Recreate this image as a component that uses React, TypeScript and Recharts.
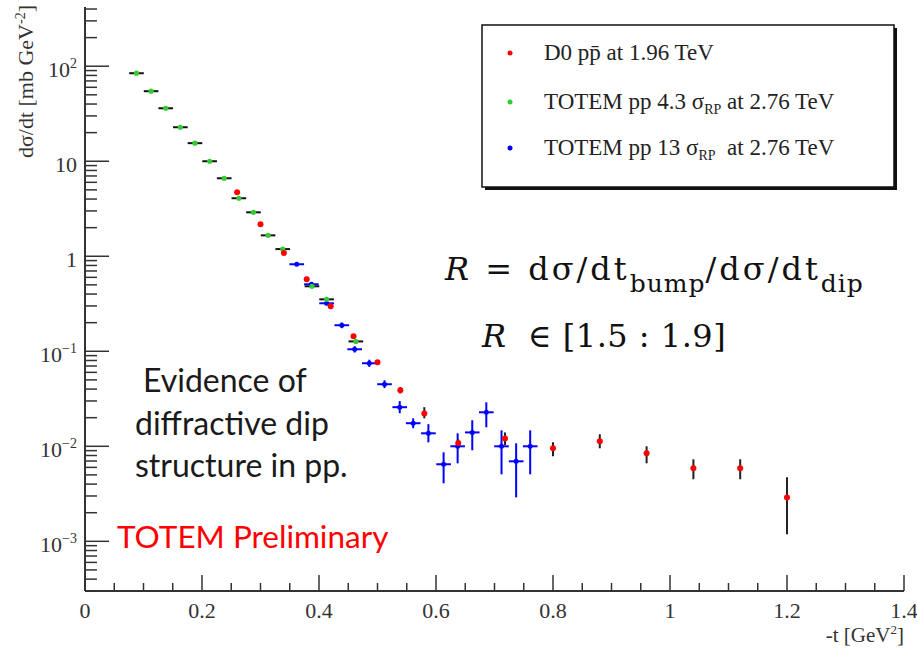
import React from "react";
import { ScatterChart, Scatter, XAxis, YAxis, ErrorBar, Legend } from "recharts";

const SERIF = "'Liberation Serif', 'Times New Roman', serif";
const MATH = "'DejaVu Serif', serif";
const SANS = "Lato, 'Noto Sans', sans-serif";
const AXIS = "#333";

// D0 p-pbar at 1.96 TeV
const d0T = [0.26, 0.3, 0.34, 0.379, 0.42, 0.459, 0.5, 0.539, 0.58, 0.638, 0.718, 0.8, 0.88, 0.96, 1.04, 1.12, 1.2];
const d0Val = [4.72, 2.17, 1.08, 0.573, 0.298, 0.144, 0.0766, 0.0388, 0.0222, 0.0108, 0.0121, 0.00953, 0.0113, 0.00844, 0.00587, 0.00587, 0.0029];
const d0Low = [4.5, 2.07, 1.03, 0.546, 0.284, 0.137, 0.072, 0.036, 0.0197, 0.0095, 0.0103, 0.00785, 0.00953, 0.00662, 0.0045, 0.0045, 0.00119];
const d0High = [4.95, 2.28, 1.13, 0.6, 0.313, 0.152, 0.081, 0.042, 0.0258, 0.0118, 0.014, 0.011, 0.0134, 0.01, 0.0073, 0.0073, 0.00472];

// TOTEM pp 4.3 sigma_RP at 2.76 TeV
const t43T = [0.088, 0.113, 0.138, 0.163, 0.188, 0.213, 0.238, 0.263, 0.288, 0.313, 0.338, 0.388, 0.413, 0.463];
const t43Val = [84.4, 54.6, 36.1, 22.8, 15.5, 10, 6.62, 4.08, 2.9, 1.66, 1.19, 0.483, 0.352, 0.127];
const t43BinHalf = 0.0125;

// TOTEM pp 13 sigma_RP at 2.76 TeV
const t13T = [0.362, 0.387, 0.413, 0.439, 0.461, 0.486, 0.512, 0.538, 0.561, 0.587, 0.613, 0.637, 0.662, 0.686, 0.712, 0.737, 0.761];
const t13Val = [0.824, 0.507, 0.32, 0.188, 0.105, 0.0748, 0.045, 0.0258, 0.0175, 0.0137, 0.00647, 0.01, 0.014, 0.0228, 0.01, 0.00695, 0.01];
const t13Low = [0.79, 0.486, 0.305, 0.175, 0.097, 0.0685, 0.041, 0.0223, 0.0155, 0.011, 0.00408, 0.00662, 0.00908, 0.01585, 0.00507, 0.0029, 0.00507];
const t13High = [0.86, 0.53, 0.336, 0.201, 0.113, 0.0815, 0.0495, 0.0299, 0.0197, 0.0171, 0.00865, 0.0137, 0.0188, 0.029, 0.01472, 0.01075, 0.01472];
const t13BinHalf = 0.0125;

// axes
const xDomain = [0, 1.4];
const yDomain = [3e-4, 420];
const xMajorTicks = [0, 0.2, 0.4, 0.6, 0.8, 1, 1.2, 1.4];
const xMinorStep = 0.05;
const yDecades = [-4, -3, -2, -1, 0, 1, 2];

const xTicks: number[] = [];
for (let k = 0; k * xMinorStep <= xDomain[1] + 1e-9; k++) xTicks.push(Math.round(k * xMinorStep * 100) / 100);
const yTicks: number[] = [];
yDecades.forEach((e) => {
  for (let m = 1; m <= 9; m++) {
    const v = m * Math.pow(10, e);
    if (v >= yDomain[0] && v <= yDomain[1]) yTicks.push(v);
  }
});

const d0Rows = d0T.map((t, i) => ({ x: t, y: d0Val[i], ey: [d0Val[i] - d0Low[i], d0High[i] - d0Val[i]] }));
const t43Rows = t43T.map((t, i) => ({ x: t, y: t43Val[i], ex: [t43BinHalf, t43BinHalf] }));
const t13Rows = t13T.map((t, i) => ({
  x: t,
  y: t13Val[i],
  ex: [t13BinHalf, t13BinHalf],
  ey: [t13Val[i] - t13Low[i], t13High[i] - t13Val[i]],
}));

const dot = (color: string, r: number) => (p: any) => <circle cx={p.cx} cy={p.cy} r={r} fill={color} />;

const XTick = ({ x, y, payload }: any) => {
  const v = payload.value;
  const major = xMajorTicks.some((m) => Math.abs(m - v) < 1e-6);
  return (
    <g>
      <line x1={x} x2={x} y1={y} y2={y - (major ? 16 : 8)} stroke={AXIS} strokeWidth={1.5} />
      {major && (
        <text x={x} y={y + 27} textAnchor="middle" fontFamily={SERIF} fontSize={22} fill={AXIS}>
          {String(v)}
        </text>
      )}
    </g>
  );
};

const YTick = ({ x, y, payload }: any) => {
  const v = payload.value;
  const lg = Math.log10(v);
  const e = Math.round(lg);
  const major = Math.abs(lg - e) < 1e-6;
  return (
    <g>
      <line x1={x} x2={x + (major ? 24 : 12)} y1={y} y2={y} stroke={AXIS} strokeWidth={1.5} />
      {major && (
        <text x={x - 8} y={y + 11} textAnchor="end" fontFamily={SERIF} fontSize={22} fill={AXIS}>
          {e === 0 ? "1" : "10"}
          {e !== 0 && e !== 1 && (
            <tspan dy={-9} fontSize={14}>
              {e < 0 ? "\u2212" + Math.abs(e) : String(e)}
            </tspan>
          )}
        </text>
      )}
    </g>
  );
};

const XTitle = ({ viewBox }: any) => (
  <text x={viewBox.x + viewBox.width} y={viewBox.y + 51} textAnchor="end" fontFamily={SERIF} fontSize={21} fill={AXIS}>
    -t [GeV
    <tspan dy={-8} fontSize={13}>2</tspan>
    <tspan dy={8}>]</tspan>
  </text>
);

const YTitle = ({ viewBox }: any) => (
  <text
    transform={`translate(${viewBox.x + 33}, ${viewBox.y - 2}) rotate(-90)`}
    textAnchor="end"
    fontFamily={SERIF}
    fontSize={22}
    fill={AXIS}
  >
    dσ/dt [mb GeV
    <tspan dy={-8} fontSize={14}>-2</tspan>
    <tspan dy={8}>]</tspan>
  </text>
);

const LegendBox = () => (
  <svg width={420} height={170}>
    <rect x={5} y={5} width={412} height={162} fill="#111" />
    <rect x={2} y={2} width={412} height={162} fill="#fff" stroke="#111" strokeWidth={1.5} />
    <g fontFamily={SERIF} fontSize={23} fill="#222">
      <circle cx={30} cy={30} r={2.5} fill="#ff0000" />
      <text x={64} y={37}>
        {"D0 pp\u0304 at 1.96 TeV"}
      </text>
      <circle cx={30} cy={79} r={2.5} fill="#33cc33" />
      <text x={64} y={86}>
        TOTEM pp 4.3 σ<tspan dy={5} fontSize={14}>RP</tspan>
        <tspan dy={-5}> at 2.76 TeV</tspan>
      </text>
      <circle cx={30} cy={125} r={2.5} fill="#0000ff" />
      <text x={64} y={132}>
        TOTEM pp 13 σ<tspan dy={5} fontSize={14}>RP</tspan>
        <tspan dy={-5}>{"\u00a0 at 2.76 TeV"}</tspan>
      </text>
    </g>
  </svg>
);

export default function App() {
  return (
    <div style={{ position: "absolute", left: 0, top: 0, width: 917, height: 651, background: "#fff" }}>
      <ScatterChart width={917} height={651} margin={{ top: 7, right: 13, bottom: 0, left: 0 }}>
        <XAxis
          type="number"
          dataKey="x"
          domain={xDomain}
          ticks={xTicks}
          interval={0}
          height={60}
          tickSize={0}
          tickMargin={0}
          tickLine={false}
          tick={<XTick />}
          axisLine={{ stroke: AXIS, strokeWidth: 2 }}
          allowDataOverflow
          label={<XTitle />}
        />
        <XAxis
          xAxisId="top"
          orientation="top"
          type="number"
          domain={xDomain}
          height={0}
          tick={false}
          tickLine={false}
          axisLine={{ stroke: AXIS, strokeWidth: 2 }}
        />
        <YAxis
          type="number"
          dataKey="y"
          scale="log"
          domain={yDomain}
          ticks={yTicks}
          interval={0}
          width={85}
          tickSize={0}
          tickMargin={0}
          tickLine={false}
          tick={<YTick />}
          axisLine={{ stroke: AXIS, strokeWidth: 2 }}
          allowDataOverflow
          label={<YTitle />}
        />
        <YAxis
          yAxisId="right"
          orientation="right"
          type="number"
          domain={[0, 1]}
          width={0}
          tick={false}
          tickLine={false}
          axisLine={{ stroke: AXIS, strokeWidth: 2 }}
        />
        <Legend
          verticalAlign="middle"
          align="center"
          wrapperStyle={{ left: 480, top: 23, width: 420, height: 170 }}
          content={() => <LegendBox />}
        />
        <Scatter name="TOTEM pp 13 σRP at 2.76 TeV" data={t13Rows} shape={dot("#0000ff", 2.5)} isAnimationActive={false}>
          <ErrorBar dataKey="ex" direction="x" width={0} stroke="#0000ff" strokeWidth={2} isAnimationActive={false} />
          <ErrorBar dataKey="ey" direction="y" width={0} stroke="#0000ff" strokeWidth={2} isAnimationActive={false} />
        </Scatter>
        <Scatter name="TOTEM pp 4.3 σRP at 2.76 TeV" data={t43Rows} shape={dot("#33cc33", 2.6)} isAnimationActive={false}>
          <ErrorBar dataKey="ex" direction="x" width={0} stroke="#111" strokeWidth={2} isAnimationActive={false} />
        </Scatter>
        <Scatter name="D0 pp̄ at 1.96 TeV" data={d0Rows} shape={dot("#ff0000", 3)} isAnimationActive={false}>
          <ErrorBar dataKey="ey" direction="y" width={0} stroke="#222" strokeWidth={2} isAnimationActive={false} />
        </Scatter>
      </ScatterChart>

      <svg width={917} height={651} style={{ position: "absolute", left: 0, top: 0, pointerEvents: "none" }}>
        <text x={445} y={280} fontFamily={MATH} fontSize={32} letterSpacing={3} fill="#111">
          <tspan fontStyle="italic">R</tspan> = dσ/dt
          <tspan dy={12} fontSize={25} letterSpacing={1}>bump</tspan>
          <tspan dy={-12}>/dσ/dt</tspan>
          <tspan dy={12} fontSize={25} letterSpacing={1}>dip</tspan>
        </text>
        <text x={482} y={347} fontFamily={MATH} fontSize={32} letterSpacing={0.5} fill="#111">
          <tspan fontStyle="italic">R</tspan> {"\u00a0∈ [1.5 : 1.9]"}
        </text>
        <g fontFamily={SANS} fontSize={32} fill="#1a1a1a">
          <text x={143} y={392}>Evidence of</text>
          <text x={135} y={435}>diffractive dip</text>
          <text x={135} y={477}>structure in pp.</text>
        </g>
        <text x={117} y={548} fontFamily={SANS} fontSize={31.5} fill="#ff0000">
          TOTEM Preliminary
        </text>
      </svg>
    </div>
  );
}
